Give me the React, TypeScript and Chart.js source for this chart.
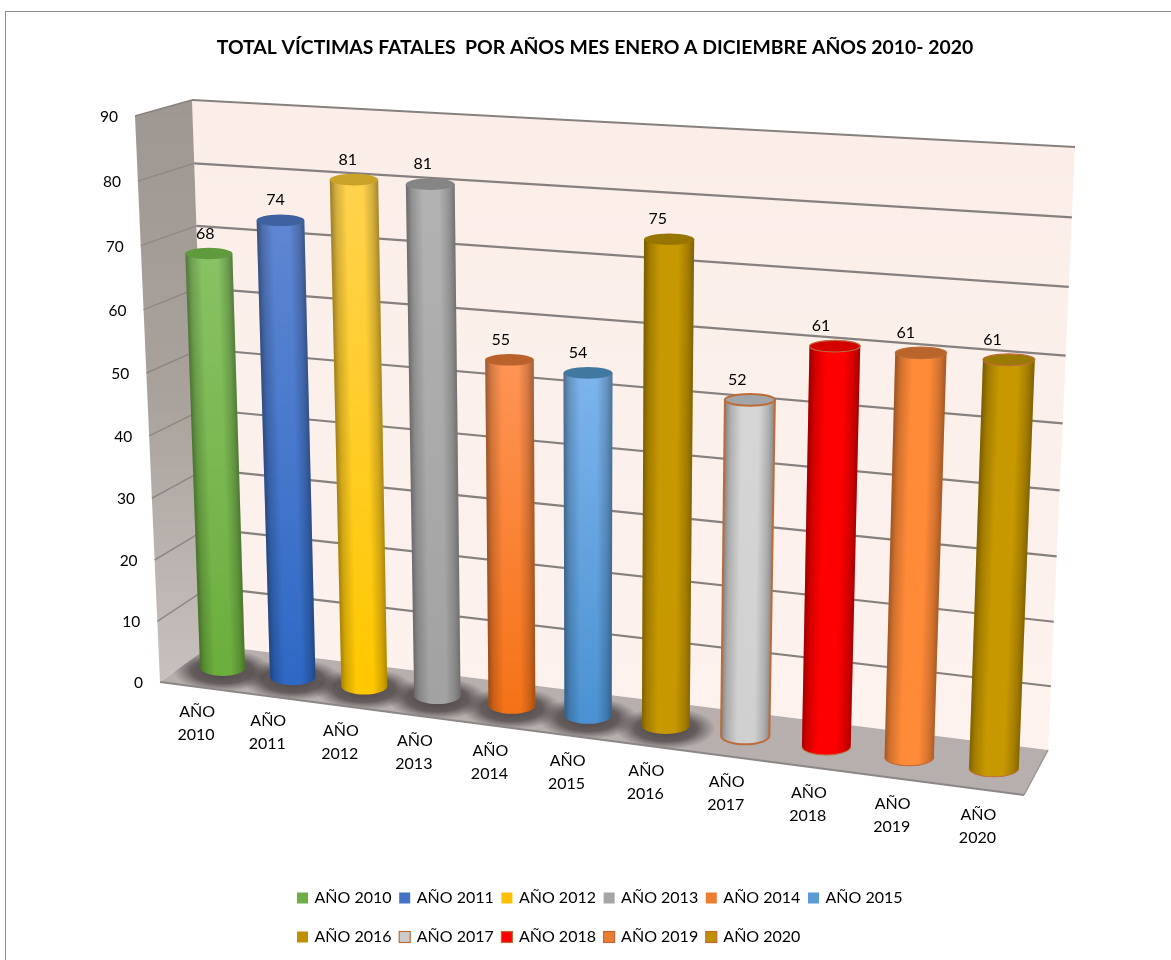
import React, { useEffect, useRef } from "react";
import { Chart, registerables } from "chart.js";

Chart.register(...registerables);

const TITLE = "TOTAL VÍCTIMAS FATALES  POR AÑOS MES ENERO A DICIEMBRE AÑOS 2010- 2020";
const categories = ["AÑO 2010", "AÑO 2011", "AÑO 2012", "AÑO 2013", "AÑO 2014", "AÑO 2015", "AÑO 2016", "AÑO 2017", "AÑO 2018", "AÑO 2019", "AÑO 2020"];
const values = [68, 74, 81, 81, 55, 54, 75, 52, 61, 61, 61];
const yMax = 90;
const yStep = 10;

const sideTop = ["#88c264", "#5f86d2", "#ffd24e", "#b2b2b2", "#ff9455", "#7db4ec", "#c79800", "#d6d6d6", "#ff0000", "#ff8a38", "#c79800"];
const sideBottom = ["#6cae3e", "#2f69c6", "#ffc800", "#a2a2a2", "#f57318", "#4c92d2", "#c79800", "#d0d0d0", "#ff0000", "#ff8a38", "#c79800"];
const capColor = ["#5f9a3c", "#3d629f", "#c9a228", "#858585", "#b9622c", "#41789f", "#977600", "#a2a6a8", "#d40000", "#b9642a", "#9a7a00"];
const legendColor = ["#6fad47", "#4472c4", "#ffc000", "#a5a5a5", "#ed7d31", "#5b9bd5", "#bf9000", "#cccccc", "#ff0000", "#ed7d31", "#bf9000"];
const outlined = [false, false, false, false, false, false, false, true, true, true, true];
const floorShadow = [true, true, true, true, true, true, true, false, false, false, false];
const OUTLINE = "#bd6b38";

type P = [number, number];
// corners: bottom-left, bottom-right, top-right, top-left
const backWall: P[] = [[211, 645], [1048, 750], [1075, 147], [192, 100]];
const sideWall: P[] = [[160, 682], [211, 645], [192, 100], [135, 116]];
const floorQuad: P[] = [[160, 682], [1024, 795], [1048, 750], [211, 645]];
const barPlane: P[] = [[188, 663], [1037, 774], [1062, 157], [168, 111]];

function homography(q: P[]) {
  const [[x0, y0], [x1, y1], [x2, y2], [x3, y3]] = q;
  const dx1 = x1 - x2, dx2 = x3 - x2, sx = x0 - x1 + x2 - x3;
  const dy1 = y1 - y2, dy2 = y3 - y2, sy = y0 - y1 + y2 - y3;
  const det = dx1 * dy2 - dx2 * dy1;
  const g = (sx * dy2 - dx2 * sy) / det;
  const h = (dx1 * sy - sx * dy1) / det;
  const a = x1 - x0 + g * x1, b = x3 - x0 + h * x3;
  const d = y1 - y0 + g * y1, e = y3 - y0 + h * y3;
  return (u: number, v: number): P => {
    const w = g * u + h * v + 1;
    return [(a * u + b * v + x0) / w, (d * u + e * v + y0) / w];
  };
}
const backMap = homography(backWall);
const barMap = homography(barPlane);
const sideFront = (v: number): P => {
  const f = v / (1 + 0.04 * (1 - v));
  const [b, t] = [sideWall[0], sideWall[3]];
  return [b[0] + (t[0] - b[0]) * f, b[1] + (t[1] - b[1]) * f];
};

function poly(ctx: CanvasRenderingContext2D, q: P[]) {
  ctx.beginPath();
  q.forEach((p, i) => (i ? ctx.lineTo(p[0], p[1]) : ctx.moveTo(p[0], p[1])));
  ctx.closePath();
}
function seg(ctx: CanvasRenderingContext2D, a: P, b: P, color: string, w: number) {
  ctx.strokeStyle = color;
  ctx.lineWidth = w;
  ctx.beginPath();
  ctx.moveTo(a[0], a[1]);
  ctx.lineTo(b[0], b[1]);
  ctx.stroke();
}
const FONT = "Lato";

const scene = {
  id: "scene3d",
  beforeDatasetsDraw(chart: any) {
    const { ctx, scales } = chart;
    const yScale = scales.y;
    const meta = chart.getDatasetMeta(0);
    const area = chart.chartArea;
    ctx.save();
    // walls
    const wallG = ctx.createLinearGradient(0, 100, 0, 750);
    wallG.addColorStop(0, "#fbeee9");
    wallG.addColorStop(1, "#fdf2ee");
    ctx.fillStyle = wallG;
    poly(ctx, backWall);
    ctx.fill();
    const sideG = ctx.createLinearGradient(0, 100, 0, 680);
    sideG.addColorStop(0, "#9f9792");
    sideG.addColorStop(0.5, "#a9a19c");
    sideG.addColorStop(1, "#c8c0bc");
    ctx.fillStyle = sideG;
    poly(ctx, sideWall);
    ctx.fill();
    // grid from the value scale
    yScale.ticks.forEach((t: any) => {
      const v = t.value / yMax;
      if (t.value > 0) {
        seg(ctx, backMap(0, v), backMap(1, v), "#86807e", 2.2);
        seg(ctx, sideFront(v), backMap(0, v), t.value === yMax ? "#86807e" : "#8f8986", 1.5);
      }
    });
    // floor
    ctx.fillStyle = "#b7aeae";
    poly(ctx, floorQuad);
    ctx.fill();
    ctx.save();
    poly(ctx, floorQuad);
    ctx.clip();
    meta.data.forEach((el: any, i: number) => {
      if (!floorShadow[i]) return;
      const u = (el.x - area.left) / area.width;
      const [bx, by] = barMap(u, 0);
      ctx.save();
      ctx.translate(bx, by + 3);
      ctx.scale(1, 0.42);
      const g = ctx.createRadialGradient(0, 0, 12, 0, 0, 50);
      g.addColorStop(0, "rgba(60,52,52,0.8)");
      g.addColorStop(0.5, "rgba(66,58,58,0.7)");
      g.addColorStop(0.78, "rgba(72,64,64,0.3)");
      g.addColorStop(1, "rgba(75,68,68,0)");
      ctx.fillStyle = g;
      ctx.beginPath();
      ctx.arc(0, 0, 50, 0, Math.PI * 2);
      ctx.fill();
      ctx.restore();
    });
    ctx.restore();
    seg(ctx, floorQuad[0], floorQuad[1], "#8c8787", 2);
    seg(ctx, floorQuad[1], floorQuad[2], "#9a9595", 1.5);
    ctx.restore();
  },
  afterDatasetsDraw(chart: any) {
    const { ctx, scales } = chart;
    const yScale = scales.y;
    const meta = chart.getDatasetMeta(0);
    const area = chart.chartArea;
    ctx.save();
    const uOf = (x: number) => (x - area.left) / area.width;
    const vOf = (y: number) => yScale.getValueForPixel(y) / yMax;

    meta.data.forEach((el: any, i: number) => {
      const u = uOf(el.x);
      const v = vOf(el.y);
      const [bx, by] = barMap(u, 0);
      const [tx, ty] = barMap(u, v);
      const hScale = (barMap(u, 1)[1] - by) / (barMap(0.5, 1)[1] - barMap(0.5, 0)[1]);
      const rb = (el.width / 2) * Math.abs(hScale);
      const rt = rb * (1 + 0.06 * v);
      const ryb = 8.5;
      const ryt = 5.8;
      const H = ty - by;
      const k = (tx - bx) / H;
      ctx.save();
      ctx.translate(bx, by);
      ctx.transform(1, 0, k, 1, 0, 0);
      const side = () => {
        ctx.beginPath();
        ctx.moveTo(-rt, H);
        ctx.lineTo(-rb, 0);
        ctx.ellipse(0, 0, rb, ryb, 0, Math.PI, 0, true);
        ctx.lineTo(rt, H);
        ctx.closePath();
      };
      const vg = ctx.createLinearGradient(0, H, 0, 0);
      vg.addColorStop(0, sideTop[i]);
      vg.addColorStop(1, sideBottom[i]);
      ctx.fillStyle = vg;
      side();
      ctx.fill();
      const R = Math.max(rt, rb);
      const sh = ctx.createLinearGradient(-R, 0, R, 0);
      sh.addColorStop(0, "rgba(0,0,0,0.4)");
      sh.addColorStop(0.12, "rgba(0,0,0,0.18)");
      sh.addColorStop(0.34, "rgba(0,0,0,0)");
      sh.addColorStop(0.68, "rgba(0,0,0,0)");
      sh.addColorStop(0.88, "rgba(0,0,0,0.18)");
      sh.addColorStop(1, "rgba(0,0,0,0.36)");
      ctx.fillStyle = sh;
      side();
      ctx.fill();
      if (outlined[i]) {
        ctx.strokeStyle = OUTLINE;
        ctx.lineWidth = i === 7 ? 2 : 1;
        if (i === 7) {
          side();
          ctx.stroke();
        } else {
          ctx.beginPath();
          ctx.ellipse(0, 0, rb, ryb, 0, Math.PI, 0, true);
          ctx.stroke();
        }
      }
      ctx.fillStyle = capColor[i];
      ctx.beginPath();
      ctx.ellipse(0, H, rt, ryt, 0, 0, Math.PI * 2);
      ctx.fill();
      if (outlined[i]) {
        ctx.lineWidth = i === 7 ? 2 : 1.2;
        ctx.strokeStyle = OUTLINE;
        ctx.stroke();
      }
      ctx.restore();
    });

    // value labels
    ctx.fillStyle = "#000";
    ctx.textAlign = "center";
    ctx.textBaseline = "middle";
    ctx.font = `16px ${FONT}`;
    meta.data.forEach((el: any, i: number) => {
      const u = uOf(el.x);
      const [tx, ty] = barMap(u, vOf(el.y));
      ctx.fillText(String(values[i]), tx - 3 - 14 * u, ty - 20);
    });

    // category labels, two lines under the floor
    meta.data.forEach((el: any, i: number) => {
      const u = uOf(el.x);
      const [bx, by] = barMap(u, 0);
      const [a, b] = categories[i].split(" ");
      const x = bx - 26 + 11 * u;
      const y = by + 44 + 3 * u;
      ctx.fillText(a, x, y);
      ctx.fillText(b, x - 1, y + 23);
    });

    // value axis ticks on the front edge of the side wall
    ctx.textAlign = "right";
    ctx.font = `15.5px ${FONT}`;
    yScale.ticks.forEach((t: any) => {
      const [x, y] = sideFront(t.value / yMax);
      ctx.fillText(String(t.value), x - 17, y + 1);
    });

    // legend
    ctx.textAlign = "left";
    ctx.font = `16px ${FONT}`;
    categories.forEach((c, i) => {
      const row = i < 6 ? 0 : 1;
      const col = i < 6 ? i : i - 6;
      const x = 297 + col * 102.2;
      const y = row ? 937 : 898;
      ctx.fillStyle = legendColor[i];
      ctx.fillRect(x, y - 5.5, 11, 11);
      if (outlined[i]) {
        ctx.strokeStyle = OUTLINE;
        ctx.lineWidth = 1.2;
        ctx.strokeRect(x, y - 5.5, 11, 11);
      }
      ctx.fillStyle = "#000";
      ctx.fillText(c, x + 17.5, y);
    });
    ctx.restore();
  },
};

export default function App() {
  const ref = useRef<HTMLCanvasElement>(null);
  useEffect(() => {
    const chart = new Chart(ref.current!, {
      type: "bar",
      data: {
        labels: categories,
        datasets: [
          {
            label: "Víctimas fatales",
            data: values,
            backgroundColor: "transparent",
            borderWidth: 0,
            barPercentage: 0.72,
            categoryPercentage: 0.85,
          },
        ],
      },
      options: {
        responsive: false,
        animation: false,
        events: [],
        layout: { padding: { left: 170, right: 151, top: 0, bottom: 190 } },
        plugins: {
          legend: { display: false },
          tooltip: { enabled: false },
          title: {
            display: true,
            text: TITLE,
            color: "#000",
            fullSize: false,
            font: { family: FONT, size: 19.4, weight: "bold" },
            padding: { top: 36, bottom: 50 },
          },
        },
        scales: {
          x: { display: false, grid: { display: false } },
          y: { display: false, min: 0, max: yMax, ticks: { stepSize: yStep }, grid: { display: false } },
        },
      },
      plugins: [scene],
    } as any);
    return () => chart.destroy();
  }, []);
  return (
    <div style={{ position: "fixed", left: 0, top: 0, width: 1171, height: 960, background: "#fff", overflow: "hidden" }}>
      <div style={{ position: "absolute", left: 5, top: 11, width: 1180, height: 970, border: "1.5px solid #8f8f8f", boxSizing: "border-box" }} />
      <canvas ref={ref} width={1171} height={960} style={{ position: "absolute", left: 0, top: 0, display: "block" }} />
    </div>
  );
}
